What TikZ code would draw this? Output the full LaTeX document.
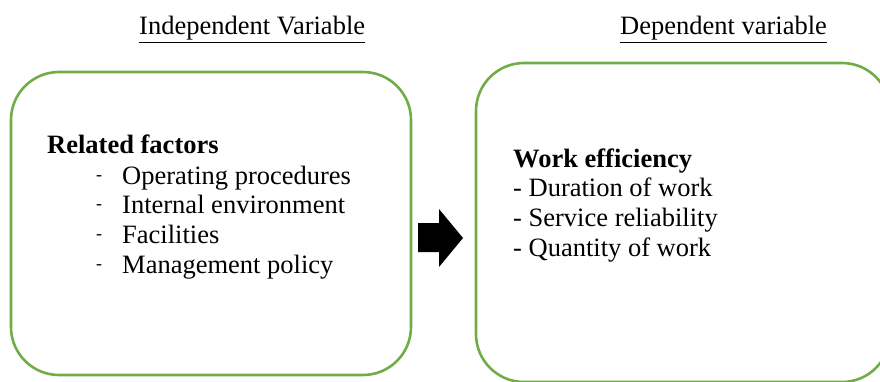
\documentclass[tikz,border=0pt]{standalone}
\usepackage{fontspec}
\setmainfont{Liberation Serif}
\begin{document}
\begin{tikzpicture}[x=1pt,y=1pt,
  box/.style={draw=boxgreen,line width=2.6pt,rounded corners=48pt},
  txt/.style={anchor=base west,inner sep=0pt,font=\fontsize{26.5}{30}\selectfont},
  dsh/.style={anchor=base west,inner sep=0pt,font=\fontsize{18}{20}\selectfont},
  bold/.style={txt,font=\fontsize{26.5}{30}\selectfont\bfseries}]
\definecolor{boxgreen}{RGB}{112,173,71}
\useasboundingbox (0,0) rectangle (880,381);
\clip (0,0) rectangle (880,381);
\draw[box] (11,6) rectangle (411,309);
\draw[box] (476,-1) rectangle (890,318);
\fill[black] (418,129) -- (439,129) -- (439,114) -- (463,143) -- (439,172) -- (439,158) -- (418,158) -- cycle;
\node[txt] (h1) at (139,346) {\underline{Independent Variable}};
\node[txt] (h2) at (620,346) {\underline{Dependent variable}};
\node[bold] (rf) at (47,228) {Related factors};
\node[dsh] (d1) at (96,201) {-};
\node[dsh] (d2) at (96,172) {-};
\node[dsh] (d3) at (96,142) {-};
\node[dsh] (d4) at (96,112) {-};
\node[txt] (l1) at (122,197) {Operating procedures};
\node[txt] (l2) at (122,168) {Internal environment};
\node[txt] (l3) at (122,138) {Facilities};
\node[txt] (l4) at (122,108) {Management policy};
\node[bold] (we) at (513,214) {Work efficiency};
\node[txt] (r1) at (513,185) {- Duration of work};
\node[txt] (r2) at (513,155) {- Service reliability};
\node[txt] (r3) at (513,125) {- Quantity of work};
\end{tikzpicture}
\end{document}
